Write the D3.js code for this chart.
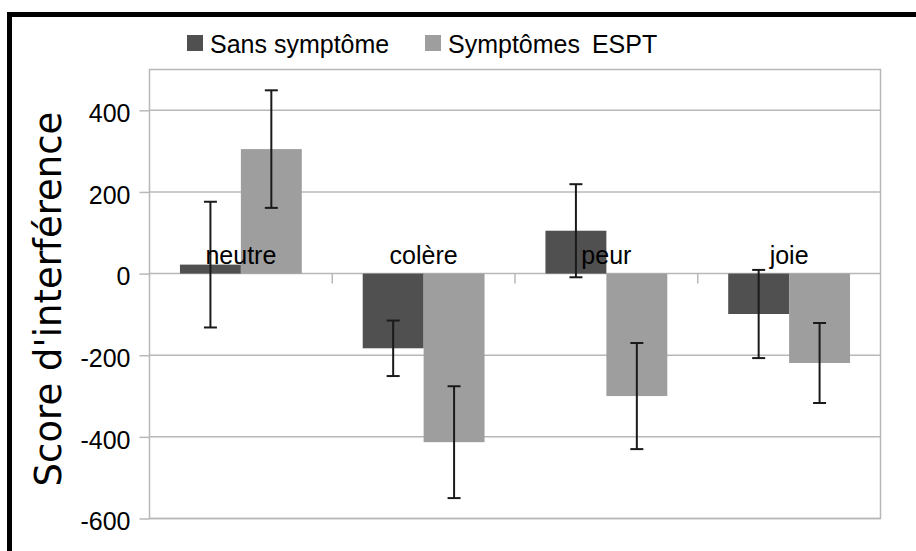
<!DOCTYPE html>
<html><head><meta charset="utf-8">
<script src="https://cdn.jsdelivr.net/npm/d3@7"></script>
<style>body{margin:0;background:#fff}svg{display:block}text{font-family:"Liberation Sans",Arial,sans-serif;fill:#000}</style>
</head><body><svg id="c" width="916" height="551"></svg>
<script>
const categories = ["neutre", "colère", "peur", "joie"];
const seriesNames = ["Sans symptôme", "Symptômes ESPT"];
const sansValues = [22, -183, 105, -99];
const esptValues = [305, -413, -300, -219];
const sansErrors = [154, 68, 114, 108];
const esptErrors = [144, 137, 130, 98];
const yTicks = [-600, -400, -200, 0, 200, 400];
const yTitle = "Score d'interférence";

const colors = ["#505050", "#9e9e9e"];
const svg = d3.select("#c");
const M = {left: 149.5, right: 880.5, top: 69.5, bottom: 518.5};

// outer black frame (clipped by the page at right and bottom)
svg.append("rect").attr("x", 9.5).attr("y", 14.5).attr("width", 960).attr("height", 600)
  .attr("fill", "none").attr("stroke", "#000").attr("stroke-width", 5);

const y = d3.scaleLinear().domain([-600, 500]).range([M.bottom, M.top]);
const x0 = d3.scaleBand().domain(categories).range([M.left, M.right]).paddingInner(1/3).paddingOuter(1/6);
const x1 = d3.scaleBand().domain(seriesNames).range([0, x0.bandwidth()]);

// gridlines
svg.append("g").selectAll("line").data(yTicks).join("line")
  .attr("x1", M.left).attr("x2", M.right).attr("y1", d => y(d)).attr("y2", d => y(d))
  .attr("stroke", "#b8b8b8").attr("stroke-width", 1.5);

// y axis
const yAxis = svg.append("g").attr("transform", `translate(${M.left},0)`)
  .call(d3.axisLeft(y).tickValues(yTicks).tickSize(10).tickPadding(9).tickFormat(d => String(d)));
yAxis.select(".domain").remove();
yAxis.selectAll(".tick line").attr("stroke", "#b8b8b8").attr("stroke-width", 1.5);
yAxis.selectAll(".tick text").attr("font-size", 25)
  .attr("fill", "#000").attr("dy", "0.45em");

// plot frame
svg.append("rect").attr("x", M.left).attr("y", M.top).attr("width", M.right - M.left).attr("height", M.bottom - M.top)
  .attr("fill", "none").attr("stroke", "#b8b8b8").attr("stroke-width", 1.5);

// category boundary ticks on zero line
const bounds = categories.slice(1).map(c => x0(c) - x0.step() * x0.paddingInner() / 2);
svg.append("g").selectAll("line").data(bounds).join("line")
  .attr("x1", d => d).attr("x2", d => d).attr("y1", y(0)).attr("y2", y(0) + 10)
  .attr("stroke", "#b8b8b8").attr("stroke-width", 1.5);

const data = categories.map((c, i) => ({
  cat: c,
  vals: [
    {s: seriesNames[0], v: sansValues[i], e: sansErrors[i], k: 0},
    {s: seriesNames[1], v: esptValues[i], e: esptErrors[i], k: 1}
  ]
}));

const groups = svg.append("g").selectAll("g").data(data).join("g")
  .attr("transform", d => `translate(${x0(d.cat)},0)`);

groups.selectAll("rect").data(d => d.vals).join("rect")
  .attr("x", d => x1(d.s)).attr("width", x1.bandwidth())
  .attr("y", d => y(Math.max(0, d.v))).attr("height", d => Math.abs(y(d.v) - y(0)))
  .attr("fill", d => colors[d.k]);

// category labels above zero line
svg.append("g").selectAll("text").data(categories).join("text")
  .attr("x", d => x0(d) + x0.bandwidth() / 2).attr("y", y(0) - 10)
  .attr("text-anchor", "middle").attr("font-size", 25).text(d => d);

// error bars
const eb = groups.selectAll("g.eb").data(d => d.vals).join("g").attr("class", "eb");
const cx = d => x1(d.s) + x1.bandwidth() / 2;
eb.append("line").attr("x1", cx).attr("x2", cx).attr("y1", d => y(d.v + d.e)).attr("y2", d => y(d.v - d.e))
  .attr("stroke", "#1a1a1a").attr("stroke-width", 2);
eb.append("line").attr("x1", d => cx(d) - 6.5).attr("x2", d => cx(d) + 6.5).attr("y1", d => y(d.v + d.e)).attr("y2", d => y(d.v + d.e))
  .attr("stroke", "#1a1a1a").attr("stroke-width", 2);
eb.append("line").attr("x1", d => cx(d) - 6.5).attr("x2", d => cx(d) + 6.5).attr("y1", d => y(d.v - d.e)).attr("y2", d => y(d.v - d.e))
  .attr("stroke", "#1a1a1a").attr("stroke-width", 2);

// y title
svg.append("text").attr("transform", `translate(61,299) rotate(-90)`)
  .attr("text-anchor", "middle").attr("font-size", 37)
  .style("font-family", "'DejaVu Sans', Verdana, sans-serif").text(yTitle);

// legend
const legX = [187, 425];
const leg = svg.append("g").selectAll("g").data(seriesNames).join("g")
  .attr("transform", (d, i) => `translate(${legX[i]},35)`);
leg.append("rect").attr("width", 16).attr("height", 16).attr("fill", (d, i) => colors[i]);
leg.append("text").attr("x", 23).attr("y", 18).attr("font-size", 25)
  .attr("word-spacing", (d, i) => i === 1 ? 5 : 0).text(d => d);
</script></body></html>
